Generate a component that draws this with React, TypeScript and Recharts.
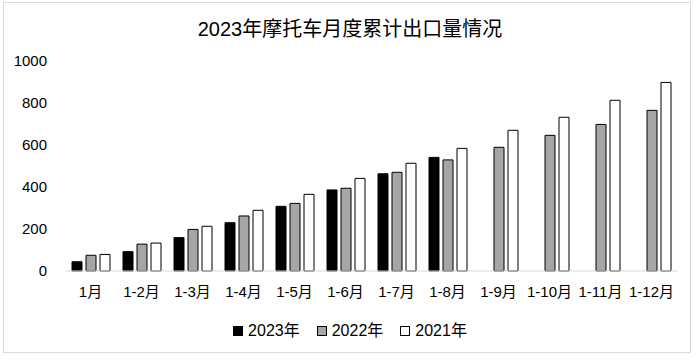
import React from "react";
import { BarChart, Bar, XAxis, YAxis, Legend } from "recharts";

const categories = ["1月", "1-2月", "1-3月", "1-4月", "1-5月", "1-6月", "1-7月", "1-8月", "1-9月", "1-10月", "1-11月", "1-12月"];
const values2023: (number | null)[] = [44, 92, 159, 230, 308, 386, 463, 541, null, null, null, null];
const values2022 = [75, 128, 198, 262, 322, 394, 470, 529, 589, 646, 698, 765];
const values2021 = [79, 133, 213, 289, 365, 441, 513, 584, 670, 732, 813, 898];
const yTicks = [0, 200, 400, 600, 800, 1000];

const series = [
  { key: "y2023", name: "2023年", fill: "#000000" },
  { key: "y2022", name: "2022年", fill: "#a6a6a6" },
  { key: "y2021", name: "2021年", fill: "#ffffff" },
];

const data = categories.map((c, i) => ({
  name: c,
  y2023: values2023[i],
  y2022: values2022[i],
  y2021: values2021[i],
}));

const FONT = '"Liberation Sans", "Noto Sans CJK SC", sans-serif';

const renderLegend = () => (
  <div
    style={{
      display: "flex",
      justifyContent: "center",
      alignItems: "center",
      fontFamily: FONT,
      fontSize: 16,
      lineHeight: "20px",
      color: "#000",
    }}
  >
    {series.map((s, i) => (
      <div key={s.key} style={{ display: "flex", alignItems: "center", marginLeft: i === 0 ? 0 : 17 }}>
        <span
          style={{
            display: "inline-block",
            width: 8,
            height: 8,
            background: s.fill,
            border: "1px solid #000",
            marginRight: 5,
          }}
        />
        <span>{s.name}</span>
      </div>
    ))}
  </div>
);

export default function App() {
  return (
    <div
      style={{
        position: "absolute",
        left: 0,
        top: 0,
        width: 700,
        height: 361,
        background: "#fff",
      }}
    >
      <div
        style={{
          position: "absolute",
          left: 3,
          top: 2,
          width: 688,
          height: 351,
          border: "1px solid #d9d9d9",
          boxSizing: "border-box",
        }}
      />
      <div
        style={{
          position: "absolute",
          left: 0,
          top: 15,
          width: 700,
          textAlign: "center",
          fontFamily: FONT,
          fontSize: 20,
          lineHeight: "28px",
          color: "#000",
        }}
      >
        2023年摩托车月度累计出口量情况
      </div>
      <div style={{ position: "absolute", left: 0, top: 0 }}>
        <BarChart
          width={700}
          height={361}
          data={data}
          margin={{ top: 61, right: 23, bottom: 40, left: 5 }}
          barSize={10}
          barGap={4}
        >
          <XAxis
            dataKey="name"
            tickLine={false}
            tickSize={0}
            tickMargin={15}
            height={30}
            interval={0}
            axisLine={{ stroke: "#d9d9d9" }}
            tick={{ fill: "#000", fontSize: 15, fontFamily: FONT }}
          />
          <YAxis
            domain={[0, 1000]}
            ticks={yTicks}
            width={60}
            axisLine={false}
            tickLine={false}
            tickSize={0}
            tickMargin={18}
            tick={{ fill: "#000", fontSize: 15, fontFamily: FONT }}
          />
          <Legend
            content={renderLegend}
            verticalAlign="bottom"
            wrapperStyle={{ left: 0, width: 700, bottom: 20 }}
          />
          {series.map((s) => (
            <Bar
              key={s.key}
              dataKey={s.key}
              name={s.name}
              fill={s.fill}
              stroke="#000"
              strokeWidth={1}
              isAnimationActive={false}
            />
          ))}
        </BarChart>
      </div>
    </div>
  );
}
